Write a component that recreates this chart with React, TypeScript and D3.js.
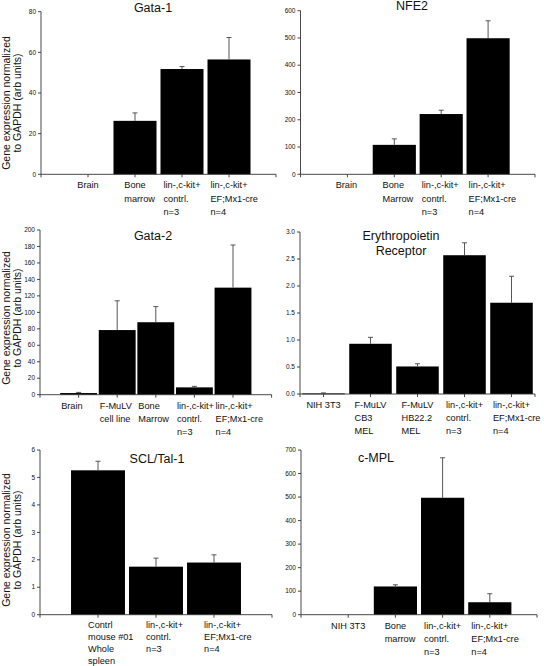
import React from 'react';
import * as d3 from 'd3';

const FONT = '"Liberation Sans", Arial, sans-serif';

// ---------- data ----------
const ctrlLabel = ["lin-,c-kit+", "contrl.", "n=3"];
const efLabel = ["lin-,c-kit+", "EF;Mx1-cre", "n=4"];

const gata1Categories = [["Brain"], ["Bone", "marrow"], ctrlLabel, efLabel];
const gata1Values = [0, 26.3, 51.8, 56.5];
const gata1Errors = [0, 3.9, 1.2, 10.8];
const gata1Ticks = [0, 20, 40, 60, 80];

const nfe2Categories = [["Brain"], ["Bone", "Marrow"], ctrlLabel, efLabel];
const nfe2Values = [0, 108, 221, 499];
const nfe2Errors = [0, 22, 14, 64];
const nfe2Ticks = [0, 100, 200, 300, 400, 500, 600];

const gata2Categories = [["Brain"], ["F-MuLV", "cell line"], ["Bone", "Marrow"], ctrlLabel, efLabel];
const gata2Values = [2, 78.5, 88, 8.9, 130];
const gata2Errors = [0.8, 35.5, 19, 1.2, 51.8];
const gata2Ticks = [0, 20, 40, 60, 80, 100, 120, 140, 160, 180, 200];

const epoCategories = [["NIH 3T3"], ["F-MuLV", "CB3", "MEL"], ["F-MuLV", "HB22.2", "MEL"], ctrlLabel, efLabel];
const epoValues = [0.01, 0.93, 0.51, 2.57, 1.69];
const epoErrors = [0.01, 0.12, 0.05, 0.23, 0.49];
const epoTicks = [0, 0.5, 1.0, 1.5, 2.0, 2.5, 3.0];

const sclCategories = [["Contrl", "mouse #01", "Whole", "spleen"], ctrlLabel, efLabel];
const sclValues = [5.26, 1.75, 1.9];
const sclErrors = [0.33, 0.31, 0.28];
const sclTicks = [0, 1, 2, 3, 4, 5, 6];

const mplCategories = [["NIH 3T3"], ["Bone", "marrow"], ctrlLabel, efLabel];
const mplValues = [0, 120, 497, 53];
const mplErrors = [0, 7, 170, 36];
const mplTicks = [0, 100, 200, 300, 400, 500, 600, 700];

const yLabelLines = ["Gene expression normalized", "to GAPDH (arb units)"];

// ---------- layout ----------
interface Panel {
  title: string[]; titleX: number; titleY: number; titleLH: number;
  cats: string[][]; values: number[]; errors: number[]; ticks: number[];
  fmt: (v: number) => string;
  x0: number; step: number; nPos: number; firstPos: number;
  y0: number; yTop: number; yMax: number; barFrac: number;
  yLabelY?: number;
  labelMode: 'center' | 'left'; labelDx: number; labelLH: number; labelFirst: number;
}

const intFmt = d3.format('d');
const decFmt = d3.format('.1f');

const panels: Panel[] = [
  { title: ["Gata-1"], titleX: 153, titleY: 11.5, titleLH: 0, cats: gata1Categories, values: gata1Values, errors: gata1Errors, ticks: gata1Ticks, fmt: intFmt,
    x0: 41, step: 47, nPos: 5, firstPos: 1, y0: 174.3, yTop: 11.7, yMax: 80, barFrac: 0.915, yLabelY: 103,
    labelMode: 'center', labelDx: 0, labelLH: 13.3, labelFirst: 14 },
  { title: ["NFE2"], titleX: 412, titleY: 9.8, titleLH: 0, cats: nfe2Categories, values: nfe2Values, errors: nfe2Errors, ticks: nfe2Ticks, fmt: intFmt,
    x0: 300.5, step: 46.9, nPos: 5, firstPos: 1, y0: 174.3, yTop: 10.7, yMax: 600, barFrac: 0.92,
    labelMode: 'center', labelDx: -1, labelLH: 13.3, labelFirst: 14 },
  { title: ["Gata-2"], titleX: 153, titleY: 240.3, titleLH: 0, cats: gata2Categories, values: gata2Values, errors: gata2Errors, ticks: gata2Ticks, fmt: intFmt,
    x0: 40, step: 38.6, nPos: 6, firstPos: 1, y0: 394.7, yTop: 230, yMax: 200, barFrac: 0.955, yLabelY: 318,
    labelMode: 'left', labelDx: 1, labelLH: 13.3, labelFirst: 14 },
  { title: ["Erythropoietin", "Receptor"], titleX: 401, titleY: 239.5, titleLH: 15, cats: epoCategories, values: epoValues, errors: epoErrors, ticks: epoTicks, fmt: decFmt,
    x0: 300, step: 47, nPos: 5, firstPos: 0.5, y0: 394, yTop: 232, yMax: 3, barFrac: 0.905,
    labelMode: 'center', labelDx: 0, labelLH: 13.3, labelFirst: 13.5 },
  { title: ["SCL/Tal-1"], titleX: 157, titleY: 463, titleLH: 0, cats: sclCategories, values: sclValues, errors: sclErrors, ticks: sclTicks, fmt: intFmt,
    x0: 40, step: 58, nPos: 4, firstPos: 1, y0: 614.7, yTop: 450, yMax: 6, barFrac: 0.93, yLabelY: 540,
    labelMode: 'left', labelDx: 17, labelLH: 12, labelFirst: 13.3 },
  { title: ["c-MPL"], titleX: 376, titleY: 461.5, titleLH: 0, cats: mplCategories, values: mplValues, errors: mplErrors, ticks: mplTicks, fmt: intFmt,
    x0: 301, step: 47.2, nPos: 5, firstPos: 1, y0: 614.7, yTop: 450, yMax: 700, barFrac: 0.915,
    labelMode: 'center', labelDx: 0, labelLH: 13.3, labelFirst: 14 },
];

const CAT_FONT = 9.2;
let measureCtx: CanvasRenderingContext2D | null = null;
function textWidth(s: string, size: number): number {
  if (!measureCtx && typeof document !== 'undefined') {
    measureCtx = document.createElement('canvas').getContext('2d');
  }
  if (!measureCtx) return s.length * size * 0.5;
  measureCtx.font = `${size}px "Liberation Sans"`;
  return measureCtx.measureText(s).width;
}

const INK = '#111';
const AXIS = '#333';

function PanelView({ p }: { p: Panel }) {
  const x = d3.scaleLinear().domain([0, p.nPos]).range([p.x0, p.x0 + p.step * p.nPos]);
  const y = d3.scaleLinear().domain([0, p.yMax]).range([p.y0, p.yTop]);
  const bw = p.step * p.barFrac;
  const positions = p.cats.map((_, i) => p.firstPos + i);
  const xTicks = [0, ...positions, p.nPos];
  return (
    <g>
      {/* title */}
      <text textAnchor="middle" fontSize={12.5} fill={INK} fontFamily={FONT}>
        {p.title.map((t, i) => (
          <tspan key={i} x={p.titleX} y={p.titleY + i * p.titleLH}>{t}</tspan>
        ))}
      </text>
      {/* bars */}
      {p.values.map((v, i) => {
        if (v <= 0) return null;
        const cx = x(positions[i]);
        const top = y(v);
        return <rect key={'b' + i} x={cx - bw / 2} y={top} width={bw} height={Math.max(0.8, p.y0 - top)} fill="#000" />;
      })}
      {/* error bars */}
      {p.values.map((v, i) => {
        if (p.errors[i] <= 0) return null;
        const cx = x(positions[i]);
        const t = y(v + p.errors[i]);
        return (
          <g key={'e' + i} stroke="#444" strokeWidth={0.9}>
            <line x1={cx} x2={cx} y1={y(v)} y2={t} />
            <line x1={cx - 2.5} x2={cx + 2.5} y1={t} y2={t} />
          </g>
        );
      })}
      {/* y axis */}
      <line x1={p.x0} x2={p.x0} y1={p.y0} y2={p.yTop} stroke={AXIS} strokeWidth={0.9} />
      {p.ticks.map((t, i) => (
        <g key={'yt' + i}>
          <line x1={p.x0 - 3} x2={p.x0} y1={y(t)} y2={y(t)} stroke={AXIS} strokeWidth={0.9} />
          <text x={p.x0 - 5} y={y(t) + 2.2} textAnchor="end" fontSize={6.5} fill={INK} fontFamily={FONT}>{p.fmt(t)}</text>
        </g>
      ))}
      {/* x axis */}
      <line x1={p.x0} x2={x(p.nPos)} y1={p.y0} y2={p.y0} stroke={AXIS} strokeWidth={0.9} />
      {xTicks.map((t, i) => (
        <line key={'xt' + i} x1={x(t)} x2={x(t)} y1={p.y0} y2={p.y0 + 3} stroke={AXIS} strokeWidth={0.9} />
      ))}
      {/* category labels */}
      {p.cats.map((lines, i) => {
        const cx = x(positions[i]);
        const left = p.labelMode === 'left'
          ? cx - bw / 2 + p.labelDx
          : cx - textWidth(lines[0], CAT_FONT) / 2 + p.labelDx;
        return (
          <text key={'c' + i} fontSize={CAT_FONT} fill={INK} fontFamily={FONT}>
            {lines.map((l, j) => (
              <tspan key={j} x={left} y={p.y0 + p.labelFirst + j * p.labelLH}>{l}</tspan>
            ))}
          </text>
        );
      })}
      {/* y label */}
      {p.yLabelY !== undefined && (
        <text transform={`translate(0,${p.yLabelY}) rotate(-90)`} textAnchor="middle" fontSize={10.5} fill={INK} fontFamily={FONT}>
          {yLabelLines.map((l, j) => (
            <tspan key={j} x={0} y={10 + j * 11}>{l}</tspan>
          ))}
        </text>
      )}
    </g>
  );
}

export default function App() {
  return (
    <svg width={544} height={666} style={{ position: 'absolute', left: 0, top: 0, background: '#fff' }}>
      <rect x={0} y={0} width={544} height={666} fill="#fff" />
      {panels.map((p, i) => <PanelView key={i} p={p} />)}
    </svg>
  );
}
